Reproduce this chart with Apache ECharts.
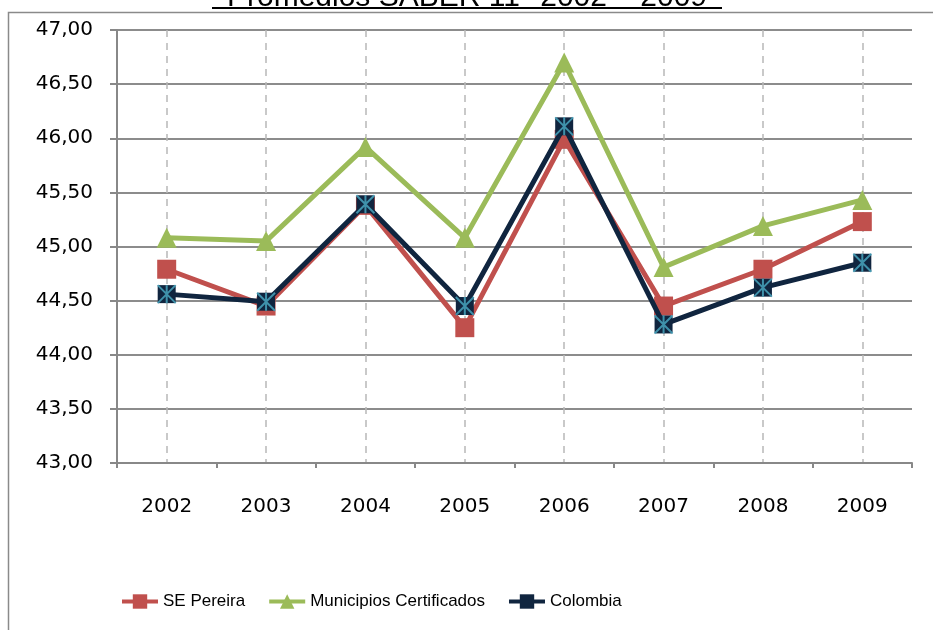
<!DOCTYPE html>
<html>
<head>
<meta charset="utf-8">
<script src="https://cdn.jsdelivr.net/npm/echarts@6/dist/echarts.min.js"></script>
<style>
  html, body { margin: 0; padding: 0; background: #fff; }
  #chart { width: 933px; height: 630px; }
</style>
</head>
<body>
<div id="chart"></div>
<script>
// datos
var years = ["2002", "2003", "2004", "2005", "2006", "2007", "2008", "2009"];
var sePereira = [44.79, 44.45, 45.38, 44.25, 45.99, 44.45, 44.79, 45.23];
var municipios = [45.08, 45.05, 45.92, 45.08, 46.70, 44.81, 45.19, 45.43];
var colombia = [44.56, 44.49, 45.39, 44.45, 46.11, 44.28, 44.62, 44.85];
var titleText = "Promedios SABER 11° 2002 – 2009";

var chart = echarts.init(document.getElementById("chart"));

// asterisco celeste encima del cuadro azul
var starPath = "path://M0,0 L10,10 M10,0 L0,10 M5,0 L5,10";

chart.setOption({
  animation: false,
  backgroundColor: "#fff",
  graphic: [
    {
      type: "rect",
      shape: { x: 8.5, y: 12.5, width: 1000, height: 700 },
      style: { fill: "none", stroke: "#8a8a8a", lineWidth: 1.5 },
      silent: true
    },
    {
      type: "text",
      x: 467,
      y: 13,
      style: {
        text: titleText,
        fill: "#000",
        font: "30px 'Liberation Sans', Arial, sans-serif",
        align: "center",
        verticalAlign: "bottom"
      },
      silent: true
    },
    {
      type: "rect",
      shape: { x: 212, y: 7, width: 510, height: 2 },
      style: { fill: "#000" },
      silent: true
    }
  ],
  grid: {
    left: 117,
    right: 21,
    top: 30,
    bottom: 167
  },
  legend: {
    bottom: 15,
    left: 115,
    itemWidth: 36,
    itemHeight: 18,
    itemGap: 22,
    data: ["SE Pereira", "Municipios Certificados", "Colombia"],
    lineStyle: { width: 4 },
    textStyle: {
      fontFamily: "'Liberation Sans', Arial, sans-serif",
      fontSize: 17,
      color: "#000"
    }
  },
  xAxis: {
    type: "category",
    data: years,
    boundaryGap: true,
    axisLine: { lineStyle: { color: "#888", width: 2 } },
    axisTick: { show: true, length: 5, lineStyle: { color: "#888", width: 2 } },
    axisLabel: {
      color: "#000",
      fontFamily: "'DejaVu Sans', Verdana, sans-serif",
      fontSize: 20,
      margin: 34
    },
    splitLine: {
      show: true,
      alignWithLabel: true,
      lineStyle: { color: "#b8b8b8", type: [7, 6], width: 1.5 }
    }
  },
  yAxis: {
    type: "value",
    min: 43,
    max: 47,
    interval: 0.5,
    axisLine: { show: true, lineStyle: { color: "#888", width: 2 } },
    axisTick: { show: true, length: 7, lineStyle: { color: "#888", width: 2 } },
    axisLabel: {
      color: "#000",
      fontFamily: "'DejaVu Sans', Verdana, sans-serif",
      fontSize: 20,
      margin: 24,
      formatter: function (v) {
        return v.toFixed(2).replace(".", ",");
      }
    },
    splitLine: { lineStyle: { color: "#8c8c8c", width: 2 } }
  },
  series: [
    {
      name: "SE Pereira",
      type: "line",
      data: sePereira,
      symbol: "rect",
      symbolSize: 19,
      color: "#C0504D",
      lineStyle: { width: 5, color: "#C0504D" },
      itemStyle: { color: "#C0504D" },
      z: 3
    },
    {
      name: "Municipios Certificados",
      type: "line",
      data: municipios,
      symbol: "triangle",
      symbolSize: 20,
      color: "#9BBB59",
      lineStyle: { width: 5, color: "#9BBB59" },
      itemStyle: { color: "#9BBB59" },
      z: 4
    },
    {
      name: "Colombia",
      type: "line",
      data: colombia,
      symbol: "rect",
      symbolSize: 18,
      color: "#10253F",
      lineStyle: { width: 5, color: "#10253F" },
      itemStyle: { color: "#10253F" },
      z: 5
    },
    {
      name: "Colombia-marca",
      type: "scatter",
      data: colombia,
      symbol: starPath,
      symbolSize: 18,
      itemStyle: { color: "rgba(0,0,0,0)", borderColor: "#4BACC6", borderWidth: 2 },
      z: 6,
      silent: true
    }
  ]
});
</script>
</body>
</html>
